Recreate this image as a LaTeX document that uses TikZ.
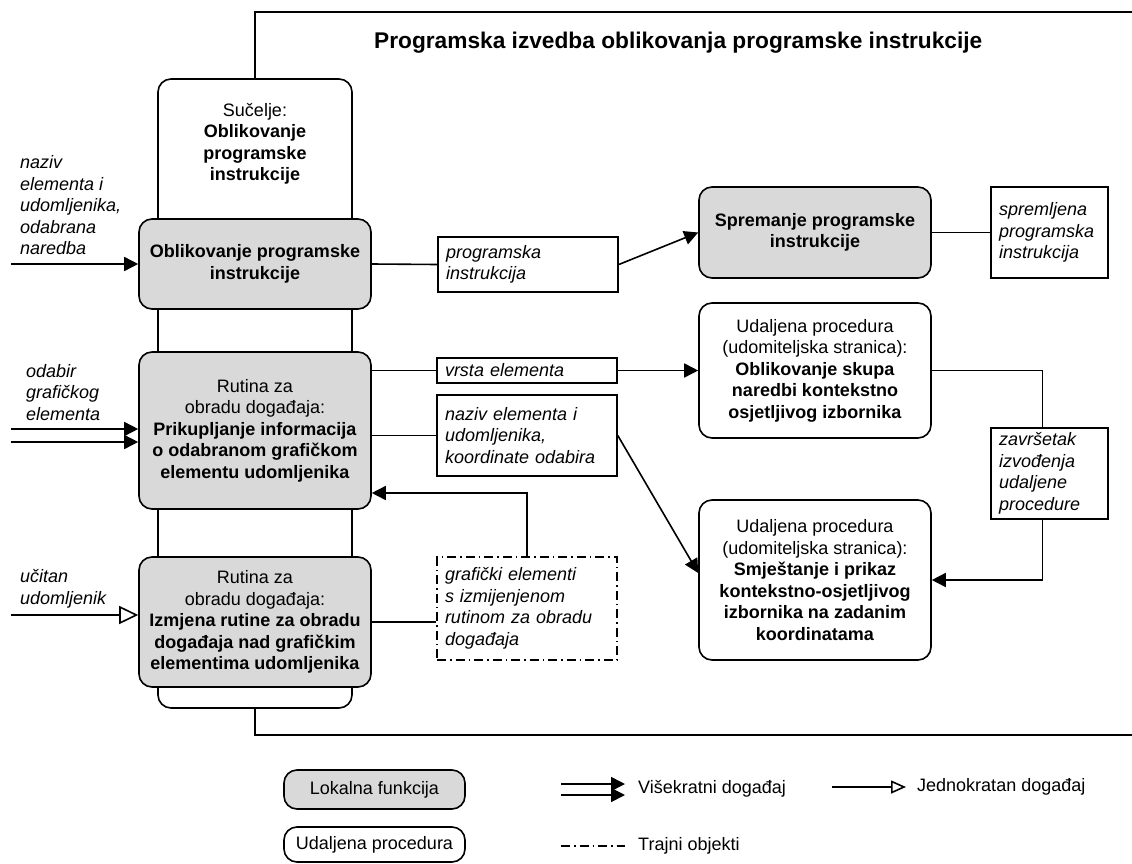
\documentclass[tikz,border=0pt]{standalone}
\usepackage{fontspec}
\setmainfont{Liberation Sans}
\usetikzlibrary{arrows.meta,calc}
\begin{document}
\begin{tikzpicture}[x=1pt,y=-1pt,
  every node/.style={font=\fontsize{18}{21.5}\selectfont},
  box/.style={draw,line width=1.6pt,rounded corners=13pt,align=center,inner sep=2pt},
  local/.style={box,fill=black!15},
  remote/.style={box,fill=white},
  note/.style={draw,line width=1.6pt,fill=white,align=left,inner xsep=8pt,inner ysep=2pt,
    font=\fontsize{18}{21.5}\selectfont\itshape},
  persist/.style={note,dash pattern=on 9pt off 4pt on 1.5pt off 4pt},
  link/.style={line width=1.6pt},
  arr/.style={link,-{Triangle[length=14pt,width=14pt]}},
  oarr/.style={link,-{Triangle[open,length=19pt,width=18pt,line width=1.6pt]}},
  oarrsmall/.style={link,-{Triangle[open,length=15pt,width=13pt,line width=1.6pt]}},
  inlabel/.style={align=left,inner sep=0pt,font=\fontsize{18}{21.5}\selectfont\itshape},
  plain/.style={align=left,inner sep=0pt},
]
\useasboundingbox (0,0) rectangle (1132,864);

% outer frame of the interface implementation
\node[remote,minimum width=194pt,minimum height=629pt] (suc) at (255,393.5) {};
\coordinate (frameTR) at (1132,12);
\coordinate (frameBR) at (1132,735);
\draw[link] (suc.north) |- (frameTR);
\draw[link] (suc.south) |- (frameBR);
\node[font=\fontsize{22.7}{27}\selectfont\bfseries,anchor=west,inner sep=0pt] (title) at (374,43)
  {Programska izvedba oblikovanja programske instrukcije};
\node[align=center,inner sep=0pt] (suctxt) at (255,144)
  {Sučelje:\\\textbf{Oblikovanje}\\\textbf{programske}\\\textbf{instrukcije}};

% local functions
\node[local,minimum width=232pt,minimum height=90pt] (b1) at (255,264)
  {\textbf{Oblikovanje programske}\\\textbf{instrukcije}};
\node[local,minimum width=232pt,minimum height=157pt] (b2) at (255,430.5)
  {Rutina za\\obradu događaja:\\\textbf{Prikupljanje informacija}\\\textbf{o odabranom grafičkom}\\\textbf{elementu udomljenika}};
\node[local,minimum width=232pt,minimum height=130pt] (b3) at (255,622)
  {Rutina za\\obradu događaja:\\\textbf{Izmjena rutine za obradu}\\\textbf{događaja nad grafičkim}\\\textbf{elementima udomljenika}};
\node[local,minimum width=232pt,minimum height=91pt] (spr) at (815,232.5)
  {\textbf{Spremanje programske}\\\textbf{instrukcije}};

% remote procedures
\node[remote,minimum width=232pt,minimum height=135pt] (u1) at (815,370.5)
  {Udaljena procedura\\(udomiteljska stranica):\\\textbf{Oblikovanje skupa}\\\textbf{naredbi kontekstno}\\\textbf{osjetljivog izbornika}};
\node[remote,minimum width=232pt,minimum height=160pt] (u2) at (815,580)
  {Udaljena procedura\\(udomiteljska stranica):\\\textbf{Smještanje i prikaz}\\\textbf{kontekstno-osjetljivog}\\\textbf{izbornika na zadanim}\\\textbf{koordinatama}};

% data passed between functions
\node[note,text width=164pt,minimum height=55pt] (prog) at (528,264.5) {programska\\instrukcija};
\node[note,text width=164pt,minimum height=25pt] (vrsta) at (527,370.5) {vrsta elementa};
\node[note,text width=164pt,minimum height=81pt] (naziv) at (527,435.5) {naziv elementa i\\udomljenika,\\koordinate odabira};
\node[persist,text width=164pt,minimum height=103pt] (graf) at (527,608.5) {grafički elementi\\s izmijenjenom\\rutinom za obradu\\događaja};
\node[note,text width=101pt,minimum height=91pt] (sprem) at (1049.5,232.5) {spremljena\\programska\\instrukcija};
\node[note,text width=101pt,minimum height=91pt] (zav) at (1049.5,473.5) {završetak\\izvođenja\\udaljene\\procedure};

% incoming events
\node[inlabel,anchor=west] (inA) at (20,205.5) {naziv\\elementa i\\udomljenika,\\odabrana\\naredba};
\node[inlabel,anchor=west] (inB) at (26,392.5) {odabir\\grafičkog\\elementa};
\node[inlabel,anchor=west] (inC) at (20,589) {učitan\\udomljenik};
\coordinate (e1) at (11,264);
\coordinate (e2) at (11,429);
\coordinate (e3) at (11,442);
\coordinate (e4) at (11,615);
\draw[arr] (e1) -- (b1.west);
\draw[arr] (e2) -- (e2 -| b2.west);
\draw[arr] (e3) -- (e3 -| b2.west);
\draw[oarr] (e4) -- (e4 -| b3.west);

% connectors
\draw[link] (b1.east) -- (prog.west);
\draw[arr] (prog.east) -- (spr.west);
\draw[link] (spr.east) -- (sprem.west);
\draw[link] (vrsta.west) -- (vrsta.west -| b2.east);
\draw[arr] (vrsta.east) -- (u1.west);
\draw[link] (naziv.west) -- (naziv.west -| b2.east);
\draw[arr] (naziv.east) -- ([yshift=7pt]u2.west);
\draw[link] (u1.east) -| ([xshift=-7pt]zav.north);
\draw[arr] ([xshift=-7pt]zav.south) |- (u2.east);
\draw[link] (b3.east) -- (b3.east -| graf.west);
\coordinate (fb) at (526,493);
\draw[arr] (graf.north) |- (fb -| b2.east);

% legend
\node[local,minimum width=181pt,minimum height=39pt] (lgL) at (374.5,789.5) {Lokalna funkcija};
\node[remote,minimum width=181pt,minimum height=35pt] (lgR) at (374.5,844.5) {Udaljena procedura};
\coordinate (m1a) at (561,784); \coordinate (m1b) at (625,784);
\coordinate (m2a) at (561,795); \coordinate (m2b) at (625,795);
\draw[arr] (m1a) -- (m1b);
\draw[arr] (m2a) -- (m2b);
\node[plain,anchor=west] (lgM) at (638,789) {Višekratni događaj};
\coordinate (s1a) at (832,787); \coordinate (s1b) at (906,787);
\draw[oarrsmall] (s1a) -- (s1b);
\node[plain,anchor=west] (lgS) at (917,787) {Jednokratan događaj};
\coordinate (p1a) at (561,846); \coordinate (p1b) at (625,846);
\draw[link,dash pattern=on 9pt off 4pt on 1.5pt off 4pt] (p1a) -- (p1b);
\node[plain,anchor=west] (lgP) at (638,846) {Trajni objekti};
\end{tikzpicture}
\end{document}
